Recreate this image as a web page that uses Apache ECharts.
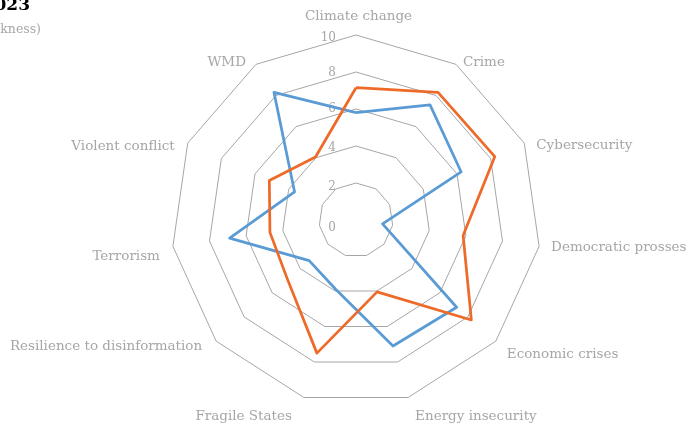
<!DOCTYPE html>
<html>
<head>
<meta charset="utf-8">
<script src="https://cdn.jsdelivr.net/npm/echarts@6/dist/echarts.min.js"></script>
<style>
  html, body { margin: 0; padding: 0; background: #fff; }
  #chart { width: 694px; height: 425px; }
</style>
</head>
<body>
<div id="chart"></div>
<script>
// indicators in clockwise order, starting at the top
var categories = ['Climate change', 'Crime', 'Cybersecurity', 'Democratic prosses', 'Economic crises',
    'Energy insecurity', 'Fragile States', 'Resilience to disinformation', 'Terrorism', 'Violent conflict', 'WMD'];
var series2022 = [5.8, 7.4, 6.25, 1.45, 7.2, 7.1, 3.9, 3.35, 6.9, 3.65, 8.2];
var series2023 = [7.15, 8.2, 8.25, 5.85, 8.25, 4.05, 7.5, 4.9, 4.7, 5.15, 4.05];
var tickLabels = ['0', '2', '4', '6', '8', '10'];

var font = 'DejaVu Serif';
var grey = '#a6a6a6';

// nudges so the names sit where the original put them: [top, right, bottom, left]
var namePads = [
    [0, 0, 12, 5],
    [0, 0, 4, 7],
    [5, 0, 0, 12],
    [2, 0, 0, 12],
    [26, 0, 0, 11],
    [38, 0, 0, 7],
    [38, 12, 0, 0],
    [10, 14, 0, 0],
    [20, 13, 0, 0],
    [7, 13, 0, 0],
    [0, 10, 4, 0]
];
// tick labels drift a little below their rings in the original
var tickPads = [16, 8, 4, 0, 2, 6];

// echarts lays indicators out counter-clockwise, so flip the order after the first one
const ccw = (arr) => [arr[0]].concat(arr.slice(1).reverse());

const chart = echarts.init(document.getElementById('chart'));

var tickRich = {};
tickLabels.forEach((t, i) => {
    tickRich['t' + i] = { color: grey, fontFamily: font, fontSize: 12, padding: [tickPads[i], 0, 0, 0] };
});

var indicators = ccw(categories).map((name, i) => {
    var ind = { name: name, min: 0, max: 10 };
    if (i === 0) {
        ind.axisLabel = {
            show: true,
            color: grey,
            fontFamily: font,
            fontSize: 12,
            margin: 20,
            formatter: (v) => '{t' + (v / 2) + '|' + tickLabels[v / 2] + '}',
            rich: tickRich
        };
    }
    return ind;
});

var rich = {};
categories.forEach((c, i) => {
    rich['n' + i] = { color: grey, fontFamily: font, fontSize: 13.5, padding: namePads[i] };
});

chart.setOption({
    animation: false,
    graphic: [
        {
            type: 'text', x: 30, y: -3,
            style: { text: 'Security risk perception 2023', align: 'right', fill: '#000',
                font: 'bold 17px "DejaVu Serif"' }
        },
        {
            type: 'text', x: 41, y: 23,
            style: { text: '(0 = strength, 10 = weakness)', align: 'right', fill: grey,
                font: '12.5px "DejaVu Serif"' }
        }
    ],
    radar: {
        center: [356, 220],
        radius: 185,
        startAngle: 90,
        splitNumber: 5,
        shape: 'polygon',
        indicator: indicators,
        axisName: {
            color: grey,
            fontFamily: font,
            fontSize: 13.5,
            formatter: (name) => '{n' + categories.indexOf(name) + '|' + name + '}',
            rich: rich
        },
        nameGap: 0,
        axisLine: { show: false },
        axisTick: { show: false },
        axisLabel: { show: false },
        splitLine: { lineStyle: { color: grey, width: 1 } },
        splitArea: { show: false }
    },
    series: [
        {
            type: 'radar',
            symbol: 'none',
            data: [
                { name: '2022', value: ccw(series2022),
                  lineStyle: { color: '#5b9bd5', width: 2.75 } },
                { name: '2023', value: ccw(series2023),
                  lineStyle: { color: '#ee6a28', width: 2.75 } }
            ]
        }
    ]
});
</script>
</body>
</html>
